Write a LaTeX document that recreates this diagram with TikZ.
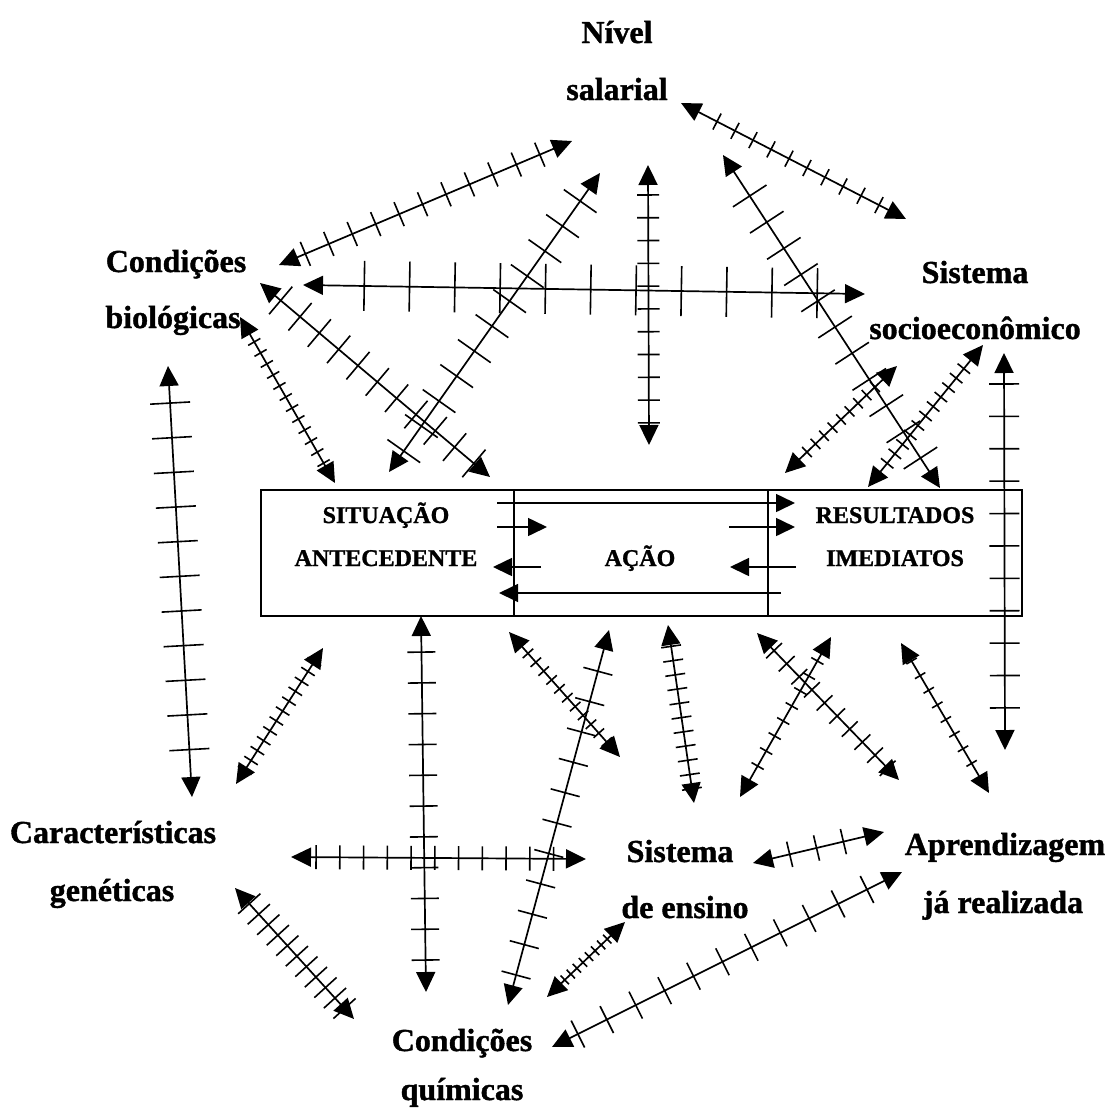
\documentclass[tikz,border=0pt]{standalone}
\usepackage{fontspec}
\setmainfont{Liberation Serif}[BoldFeatures={FakeBold=1.2}]
\usetikzlibrary{arrows.meta,calc}
\newcommand\tkarrow[6]{%
  \draw[arr] (#1) -- (#2);
  \foreach \i in {1,...,#3}{%
    \pgfmathsetmacro\tkpos{#4+(#5-#4)*(\i-1)/(#3-1)}%
    \path ($(#1)!\tkpos!(#2)$) coordinate (tkm);
    \draw[tkl] ($(tkm)!#6!90:(#2)$) -- ($(tkm)!#6!-90:(#2)$);
  }}
\begin{document}
\begin{tikzpicture}[x=1pt,y=-1pt,
  arr/.style={line width=1.7pt,{Triangle[length=20pt,width=19pt]}-{Triangle[length=20pt,width=19pt]}},
  sarr/.style={line width=1.6pt,-{Triangle[length=19pt,width=18pt]}},
  tkl/.style={line width=1.6pt},
  lbl/.style={anchor=base,font=\fontsize{32}{38}\selectfont\bfseries,inner sep=0pt},
  btxt/.style={anchor=base,font=\fontsize{24}{28}\selectfont\bfseries,inner sep=0pt},
  cell/.style={draw,line width=1.4pt,minimum height=126pt,inner sep=0pt}]
\useasboundingbox[fill=white] (0,0) rectangle (1109,1109);

% labels
\node[lbl] (niv1) at (617,43) {Nível};
\node[lbl] (niv2) at (617,100) {salarial};
\node[lbl] (bio1) at (176,272) {Condições};
\node[lbl] (bio2) at (173,328) {biológicas};
\node[lbl] (soc1) at (975,283) {Sistema};
\node[lbl] (soc2) at (975,339) {socioeconômico};
\node[lbl] (gen1) at (113,843) {Características};
\node[lbl] (gen2) at (112,901) {genéticas};
\node[lbl] (ens1) at (680,862) {Sistema};
\node[lbl] (ens2) at (685,918) {de ensino};
\node[lbl] (apr1) at (1005,855) {Aprendizagem};
\node[lbl] (apr2) at (1003,913) {já realizada};
\node[lbl] (qui1) at (462,1051) {Condições};
\node[lbl] (qui2) at (462,1100) {químicas};

% central box
\node[cell,minimum width=253pt] (sit) at (387.5,553) {};
\node[cell,minimum width=254pt] (acao) at (641,553) {};
\node[cell,minimum width=254pt] (res) at (895,553) {};
\node[btxt] (t1) at (386,523) {SITUAÇÃO};
\node[btxt] (t2) at (386,566) {ANTECEDENTE};
\node[btxt] (t3) at (640,566) {AÇÃO};
\node[btxt] (t4) at (895,523) {RESULTADOS};
\node[btxt] (t5) at (895,566) {IMEDIATOS};

% internal arrows
\coordinate (i1a) at (497,503); \coordinate (i1b) at (795,503);
\coordinate (i2a) at (497,527); \coordinate (i2b) at (547,527);
\coordinate (i3a) at (729,527); \coordinate (i3b) at (795,527);
\coordinate (i4a) at (541,567); \coordinate (i4b) at (493,567);
\coordinate (i5a) at (796,567); \coordinate (i5b) at (730,567);
\coordinate (i6a) at (781,593); \coordinate (i6b) at (499,593);
\foreach \s in {1,...,6} {\draw[sarr] (i\s a) -- (i\s b);}

% end points of the hatched arrows
\coordinate (A1) at (279,265); \coordinate (A2) at (572,141);
\coordinate (B1) at (681,103); \coordinate (B2) at (906,219);
\coordinate (C1) at (303,285); \coordinate (C2) at (865,294);
\coordinate (D1) at (389,472); \coordinate (D2) at (600,173);
\coordinate (E1) at (648,165); \coordinate (E2) at (649,445);
\coordinate (F1) at (723,155); \coordinate (F2) at (940,488);
\coordinate (G1) at (897,366); \coordinate (G2) at (785,473);
\coordinate (H1) at (983,345); \coordinate (H2) at (868,487);
\coordinate (I1) at (1004,353); \coordinate (I2) at (1005,750);
\coordinate (J1) at (260,283); \coordinate (J2) at (490,477);
\coordinate (K1) at (240,317); \coordinate (K2) at (335,483);
\coordinate (L1) at (168,366); \coordinate (L2) at (192,797);
\coordinate (M1) at (323,648); \coordinate (M2) at (236,784);
\coordinate (N1) at (421,616); \coordinate (N2) at (426,992);
\coordinate (O1) at (291,857); \coordinate (O2) at (586,859);
\coordinate (P1) at (609,630); \coordinate (P2) at (508,1005);
\coordinate (Q1) at (509,632); \coordinate (Q2) at (620,757);
\coordinate (R1) at (668,625); \coordinate (R2) at (694,803);
\coordinate (S1) at (831,637); \coordinate (S2) at (740,797);
\coordinate (T1) at (757,633); \coordinate (T2) at (899,780);
\coordinate (U1) at (901,643); \coordinate (U2) at (989,793);
\coordinate (V1) at (753,863); \coordinate (V2) at (884,832);
\coordinate (W1) at (552,1047); \coordinate (W2) at (902,872);
\coordinate (X1) at (547,997); \coordinate (X2) at (625,922);
\coordinate (Y1) at (235,888); \coordinate (Y2) at (354,1019);

\tkarrow{A1}{A2}{11}{0.09}{0.89}{13pt}
\tkarrow{B1}{B2}{10}{0.16}{0.88}{9pt}
\tkarrow{C1}{C2}{11}{0.109}{0.915}{25pt}
\tkarrow{D1}{D2}{11}{0.07}{0.906}{20pt}
\tkarrow{E1}{E2}{11}{0.107}{0.921}{11pt}
\tkarrow{F1}{F2}{11}{0.123}{0.91}{20pt}
\tkarrow{G1}{G2}{11}{0.12}{0.88}{7pt}
\tkarrow{H1}{H2}{13}{0.1}{0.9}{8pt}
\tkarrow{I1}{I2}{11}{0.078}{0.894}{15pt}
\tkarrow{J1}{J2}{11}{0.09}{0.93}{18pt}
\tkarrow{K1}{K2}{12}{0.15}{0.88}{7pt}
\tkarrow{L1}{L2}{11}{0.086}{0.89}{20pt}
\tkarrow{M1}{M2}{12}{0.1}{0.9}{8pt}
\tkarrow{N1}{N2}{11}{0.096}{0.915}{14pt}
\tkarrow{O1}{O2}{11}{0.085}{0.89}{12pt}
\tkarrow{P1}{P2}{11}{0.11}{0.92}{15pt}
\tkarrow{Q1}{Q2}{12}{0.1}{0.88}{7pt}
\tkarrow{R1}{R2}{11}{0.12}{0.92}{10pt}
\tkarrow{S1}{S2}{9}{0.15}{0.9}{7pt}
\tkarrow{T1}{T2}{10}{0.12}{0.92}{11pt}
\tkarrow{U1}{U2}{9}{0.12}{0.9}{6pt}
\tkarrow{V1}{V2}{3}{0.28}{0.69}{13pt}
\tkarrow{W1}{W2}{11}{0.074}{0.9}{15pt}
\tkarrow{X1}{X2}{10}{0.15}{0.85}{6pt}
\tkarrow{Y1}{Y2}{11}{0.12}{0.92}{15pt}
\end{tikzpicture}
\end{document}
